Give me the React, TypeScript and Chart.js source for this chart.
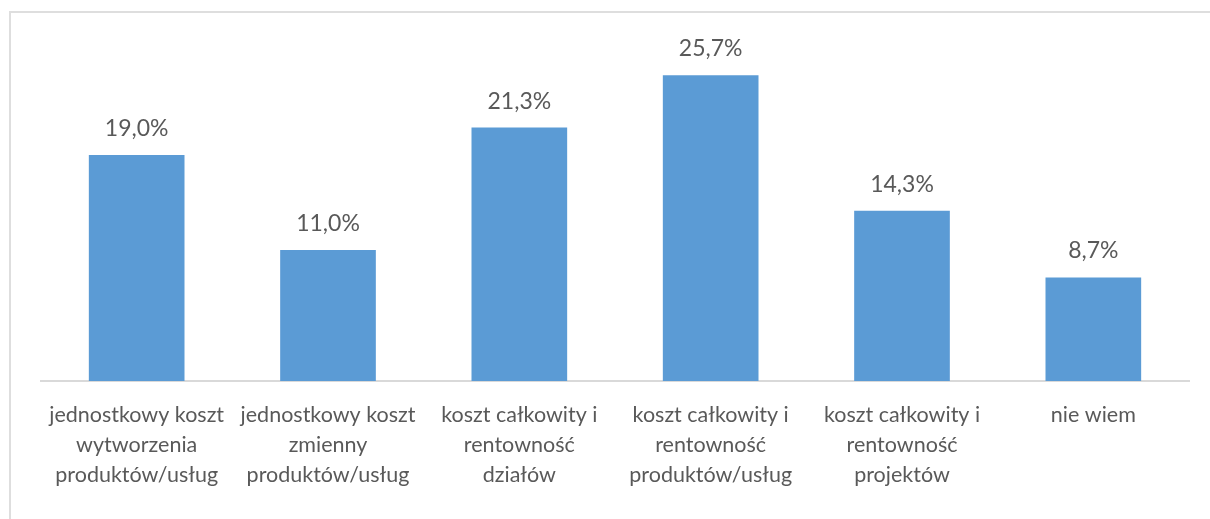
import React, { useEffect, useRef } from "react";
import { Chart, registerables } from "chart.js";

Chart.register(...registerables);

const categories: string[][] = [
  ["jednostkowy koszt", "wytworzenia", "produktów/usług"],
  ["jednostkowy koszt", "zmienny", "produktów/usług"],
  ["koszt całkowity i", "rentowność", "działów"],
  ["koszt całkowity i", "rentowność", "produktów/usług"],
  ["koszt całkowity i", "rentowność", "projektów"],
  ["nie wiem"],
];
const values: number[] = [19.0, 11.0, 21.3, 25.7, 14.3, 8.7];

const FONT = "Lato, 'Open Sans', sans-serif";
const TEXT = "#595959";

const labelPlugin = {
  id: "valueLabels",
  afterDatasetsDraw(chart: any) {
    const ctx = chart.ctx;
    const meta = chart.getDatasetMeta(0);
    ctx.save();
    ctx.font = `23px ${FONT}`;
    ctx.fillStyle = TEXT;
    ctx.textAlign = "center";
    ctx.textBaseline = "alphabetic";
    meta.data.forEach((bar: any, i: number) => {
      const v = values[i];
      const txt = v.toFixed(1).replace(".", ",") + "%";
      ctx.fillText(txt, bar.x, bar.y - 19);
    });
    ctx.restore();
  },
};

export default function App() {
  const ref = useRef<HTMLCanvasElement | null>(null);
  useEffect(() => {
    if (!ref.current) return;
    const chart = new Chart(ref.current, {
      type: "bar",
      data: {
        labels: categories,
        datasets: [
          {
            data: values,
            backgroundColor: "#5B9BD5",
            barPercentage: 0.5,
            categoryPercentage: 1,
          },
        ],
      },
      options: {
        responsive: false,
        animation: false,
        maintainAspectRatio: false,
        layout: { padding: { left: 41, right: 21, top: 24, bottom: 0 } },
        plugins: { legend: { display: false }, tooltip: { enabled: false } },
        scales: {
          y: { display: false, min: 0, max: 30 },
          x: {
            grid: { display: false },
            border: { display: true, color: "#d9d9d9", width: 2 },
            ticks: {
              color: TEXT,
              font: { family: FONT, size: 21.5, lineHeight: 1.4 },
              padding: 11,
              maxRotation: 0,
              autoSkip: false,
            },
            afterFit: (s: any) => {
              s.height = 138;
            },
          },
        },
      },
      plugins: [labelPlugin],
    });
    return () => chart.destroy();
  }, []);
  return (
    <div style={{ position: "fixed", left: 0, top: 0, width: 1210, height: 519, background: "#fff", overflow: "hidden" }}>
      <canvas ref={ref} width={1210} height={519} style={{ position: "absolute", left: 0, top: 0 }} />
      <div
        style={{
          position: "absolute",
          left: 9,
          top: 11,
          width: 1220,
          height: 530,
          border: "2px solid #dedede",
          pointerEvents: "none",
        }}
      />
    </div>
  );
}
